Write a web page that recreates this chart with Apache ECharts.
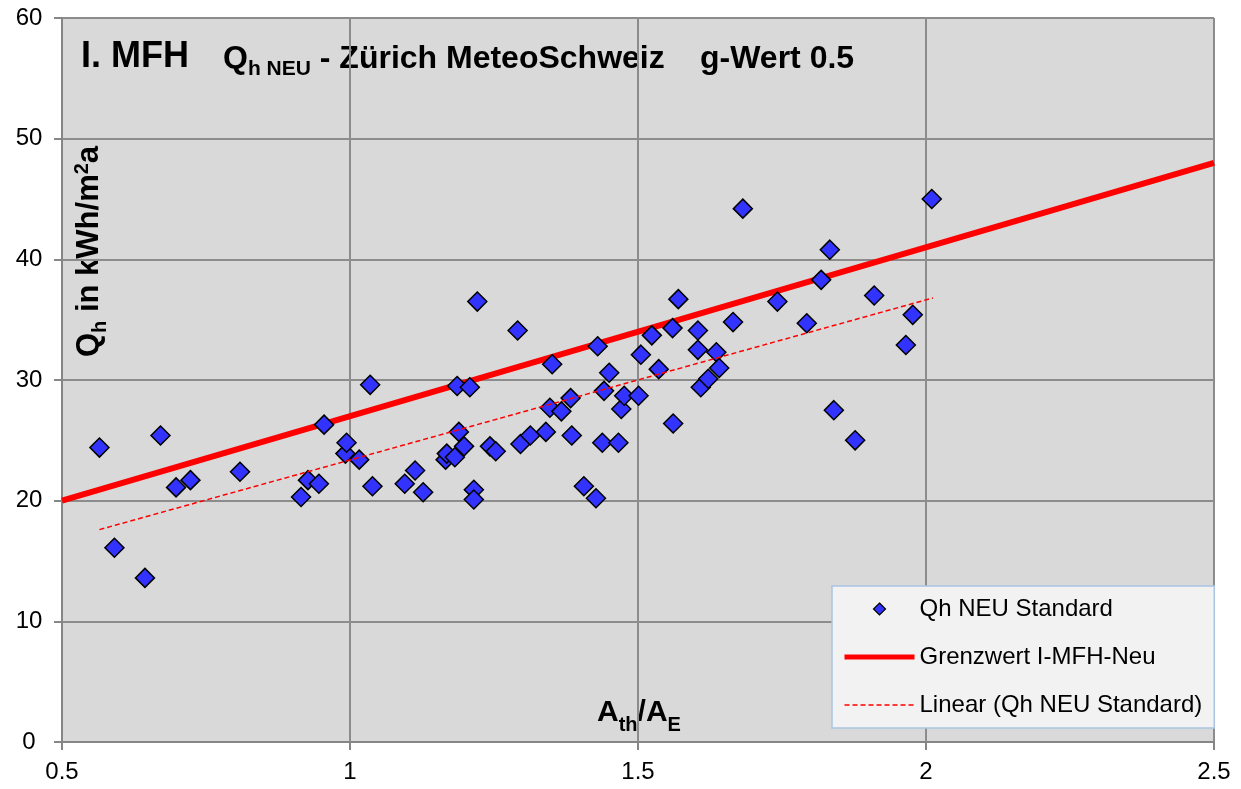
<!DOCTYPE html>
<html>
<head>
<meta charset="utf-8">
<title>I. MFH Qh NEU - Zürich MeteoSchweiz</title>
<script src="https://cdn.jsdelivr.net/npm/echarts@6/dist/echarts.min.js"></script>
<style>
  html, body { margin: 0; padding: 0; background: #fff; }
  #chart { width: 1241px; height: 789px; }
</style>
</head>
<body>
<div id="chart"></div>
<script>
// Qh NEU Standard: A_th/A_E and Qh (kWh/m2a)
const athAe = [
  0.565, 0.591, 0.644, 0.671, 0.698, 0.723, 0.809, 0.915, 0.927, 0.946,
  0.955, 0.992, 0.994, 1.016, 1.035, 1.039, 1.095, 1.113, 1.127, 1.166,
  1.168, 1.182, 1.186, 1.189, 1.198, 1.208, 1.215, 1.215, 1.221, 1.243,
  1.253, 1.291, 1.296, 1.313, 1.340, 1.347, 1.351, 1.367, 1.383, 1.385,
  1.406, 1.427, 1.430, 1.438, 1.441, 1.450, 1.466, 1.471, 1.476, 1.501,
  1.505, 1.524, 1.536, 1.560, 1.561, 1.570, 1.604, 1.604, 1.609, 1.622,
  1.636, 1.641, 1.665, 1.682, 1.742, 1.793, 1.818, 1.833, 1.840, 1.877,
  1.910, 1.965, 1.977, 2.010
];
const qhNeu = [
  24.4, 16.1, 13.6, 25.4, 21.1, 21.7, 22.4, 20.3, 21.7, 21.4,
  26.3, 23.9, 24.8, 23.4, 29.6, 21.2, 21.4, 22.5, 20.7, 23.4,
  23.9, 23.6, 29.5, 25.7, 24.5, 29.4, 20.9, 20.1, 36.5, 24.5,
  24.1, 34.1, 24.7, 25.4, 25.7, 27.7, 31.3, 27.4, 28.5, 25.4,
  21.2, 20.2, 32.8, 24.8, 29.1, 30.6, 24.8, 27.6, 28.7, 28.7,
  32.1, 33.7, 30.9, 34.3, 26.4, 36.7, 34.1, 32.5, 29.4, 30.1,
  32.3, 31.0, 34.8, 44.2, 36.5, 34.7, 38.3, 40.8, 27.5, 25.0,
  37.0, 32.9, 35.4, 45.0
];

// Grenzwert I-MFH-Neu (end points)
const grenzX = [0.5, 2.5];
const grenzY = [20, 48];

// Linear (Qh NEU Standard) trend line (end points as drawn)
const trendX = [0.565, 2.012];
const trendY = [17.6, 36.8];

const seriesNames = ['Qh NEU Standard', 'Grenzwert I-MFH-Neu', 'Linear (Qh NEU Standard)'];

const FONT = '"Liberation Sans", Arial, sans-serif';
const zip = (xs, ys) => xs.map((x, i) => [x, ys[i]]);

// text runs with sub/superscripts, baseline at y = 0 of the group
const measure = document.createElement('canvas').getContext('2d');
function run(pieces) {
  let cx = 0;
  const out = [];
  pieces.forEach(([t, size, dy]) => {
    const font = 'bold ' + size + 'px ' + FONT;
    measure.font = font;
    out.push({
      type: 'text',
      x: cx,
      y: dy - 0.35 * size,
      silent: true,
      style: { text: t, font: font, fill: '#000', textAlign: 'left', textVerticalAlign: 'middle' }
    });
    cx += measure.measureText(t).width;
  });
  return out;
}

// legend diamond: a 12px diamond centred in a 70x13 box (corner points keep the box size)
const legendDiamond = 'path://M0,0L0.001,0M70,13L69.999,13M35,0.5L41,6.5L35,12.5L29,6.5Z';

const myChart = echarts.init(document.getElementById('chart'));
const axisGrey = '#868686';

const option = {
  animation: false,
  backgroundColor: '#fff',
  grid: {
    left: 62, top: 18, width: 1152, height: 724,
    show: true, backgroundColor: '#d9d9d9', borderWidth: 0
  },
  xAxis: {
    type: 'value',
    min: 0.5, max: 2.5, interval: 0.5,
    axisLine: { show: true, onZero: false, lineStyle: { color: axisGrey, width: 2 } },
    axisTick: { show: true, length: 8, lineStyle: { color: axisGrey, width: 2 } },
    splitLine: { show: true, lineStyle: { color: '#8c8c8c', width: 2 } },
    axisLabel: { fontSize: 24, fontFamily: FONT, color: '#000', margin: 18 }
  },
  yAxis: {
    type: 'value',
    min: 0, max: 60, interval: 10,
    axisLine: { show: true, onZero: false, lineStyle: { color: axisGrey, width: 2 } },
    axisTick: { show: true, length: 8, lineStyle: { color: axisGrey, width: 2 } },
    splitLine: { show: true, lineStyle: { color: '#8c8c8c', width: 2 } },
    axisLabel: { fontSize: 24, fontFamily: FONT, color: '#000', margin: 33, align: 'center' }
  },
  legend: {
    orient: 'vertical',
    left: 832, top: 586,
    padding: [11, 12, 11, 10],
    itemGap: 24,
    itemWidth: 70,
    itemHeight: 13,
    symbolKeepAspect: false,
    backgroundColor: '#f2f2f2',
    borderColor: '#a9c3e3',
    borderWidth: 1.5,
    textStyle: { fontSize: 24, fontFamily: FONT, color: '#000' },
    data: [
      { name: seriesNames[0], icon: legendDiamond, itemStyle: { borderWidth: 1.2 } },
      { name: seriesNames[1], itemStyle: { opacity: 0 }, lineStyle: { width: 5 } },
      { name: seriesNames[2], itemStyle: { opacity: 0 }, lineStyle: { width: 1.5 } }
    ]
  },
  graphic: [
    { type: 'group', x: 81, y: 69.5, children: run([['I. MFH', 36, 0]]) },
    { type: 'group', x: 223, y: 70, children: run([['Q', 32, 0], ['h NEU', 21, 7], [' - Zürich MeteoSchweiz', 32, 0]]) },
    { type: 'group', x: 700, y: 70, children: run([['g-Wert 0.5', 32, 0]]) },
    { type: 'group', x: 100, y: 357, rotation: Math.PI / 2,
      children: run([['Q', 31, 0], ['h', 20, 7], [' in kWh/m', 31, 0], ['2', 20, -11], ['a', 31, 0]]) },
    { type: 'group', x: 597, y: 723,
      children: run([['A', 30, 0], ['th', 20, 9], ['/', 30, 0], ['A', 30, 0], ['E', 20, 9]]) }
  ],
  series: [
    {
      name: seriesNames[0],
      type: 'scatter',
      data: zip(athAe, qhNeu),
      symbol: 'diamond',
      symbolSize: 19,
      itemStyle: { color: '#3333ff', borderColor: '#000', borderWidth: 1.5, opacity: 1 },
      z: 3
    },
    {
      name: seriesNames[1],
      type: 'line',
      data: zip(grenzX, grenzY),
      symbol: 'none',
      color: '#ff0000',
      lineStyle: { color: '#ff0000', width: 6 },
      z: 2
    },
    {
      name: seriesNames[2],
      type: 'line',
      data: zip(trendX, trendY),
      symbol: 'none',
      color: '#ff0000',
      lineStyle: { color: '#ff0000', width: 1.5, type: [5, 3] },
      z: 4
    }
  ]
};

option && myChart.setOption(option);
</script>
</body>
</html>
